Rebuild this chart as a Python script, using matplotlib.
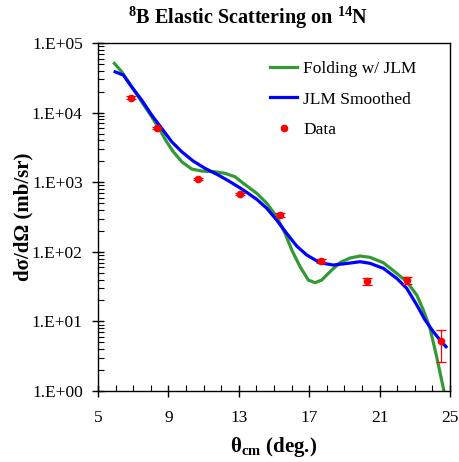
import matplotlib
matplotlib.use("Agg")
import matplotlib.pyplot as plt
import numpy as np
from matplotlib.lines import Line2D
from matplotlib.ticker import FixedLocator, MultipleLocator, LogLocator, FuncFormatter, NullFormatter

plt.rcParams['font.family'] = ['Liberation Serif', 'DejaVu Serif']
plt.rcParams['mathtext.fontset'] = 'custom'
plt.rcParams['mathtext.rm'] = 'Liberation Serif'
plt.rcParams['mathtext.bf'] = 'Liberation Serif:bold'

# folding model w/ JLM
fold_theta = [5.93, 6.35, 6.91, 7.48, 8.05, 8.52, 8.90, 9.28, 9.76, 10.32,
              10.89, 11.65, 12.22, 12.78, 13.26, 14.02, 14.59, 15.15, 15.63,
              16.01, 16.48, 16.95, 17.33, 17.71, 18.18, 18.75, 19.32, 19.89,
              20.45, 21.21, 21.97, 22.54, 23.11, 23.48, 23.86, 24.24, 24.66, 24.75]
fold_xs = [51100, 38700, 23600, 14350, 8730, 5620, 3820, 2740, 1970, 1549,
           1449, 1416, 1343, 1200, 964, 693, 498, 319, 184,
           106, 61.1, 39.3, 36.0, 39.3, 51.8, 70.2, 81.5, 87.1,
           83.4, 69.7, 49.1, 37.2, 23.9, 14.6, 7.96, 3.11, 0.98, 0.8]

# JLM smoothed
jlm_theta = [5.97, 6.44, 6.91, 7.48, 8.05, 8.62, 9.19, 9.76, 10.41, 11.08,
             11.84, 12.50, 13.26, 14.02, 14.59, 15.15, 15.72, 16.29, 16.86,
             17.61, 18.37, 19.32, 19.89, 20.45, 21.21, 21.97, 22.54, 23.11,
             23.58, 24.05, 24.43, 24.77]
jlm_xs = [38700, 34700, 23600, 15200, 9240, 5950, 3820, 2740, 2017, 1584,
          1268, 1017, 773, 568, 422, 286, 184, 121, 90,
          69.7, 64.6, 69.0, 72.1, 68.4, 57.9, 41.6, 29.9, 17.2,
          10.5, 7.11, 5.40, 4.33]

# measured data
data_theta = [6.88, 8.35, 10.68, 13.07, 15.34, 17.67, 20.28, 22.56, 24.49]
data_xs = [16400, 6000, 1110, 677, 338, 73.8, 38.1, 39.3, 5.23]
data_err_lo = [700, 250, 50, 30, 20, 5, 5, 4.9, 2.62]
data_err_hi = [700, 250, 50, 30, 20, 5, 4.4, 4.6, 2.27]

fig = plt.figure(figsize=(4.59, 4.62), dpi=100)
ax = fig.add_axes([0.2135, 0.1537, 0.767, 0.753])

ax.plot(fold_theta, fold_xs, color='#339933', lw=2.3)
ax.plot(jlm_theta, jlm_xs, color='#0000FF', lw=2.3)
ax.errorbar(data_theta, data_xs, yerr=[data_err_lo, data_err_hi], fmt='o',
            color='#FF0000', ms=4.5, elinewidth=0.9, capsize=3.5, capthick=0.9)

ax.set_yscale('log')
ax.set_xlim(5, 25)
ax.set_ylim(1, 1e5)

ax.xaxis.set_major_locator(FixedLocator([5, 9, 13, 17, 21, 25]))
ax.xaxis.set_minor_locator(MultipleLocator(1))
ax.yaxis.set_major_locator(LogLocator(base=10, numticks=10))
ax.yaxis.set_minor_locator(LogLocator(base=10, subs=np.arange(2, 10), numticks=10))
ax.yaxis.set_minor_formatter(NullFormatter())
ax.yaxis.set_major_formatter(FuncFormatter(lambda v, p: '1.E+%02d' % int(round(np.log10(v)))))

ax.tick_params(which='major', direction='inout', length=8, width=1, labelsize=12.5, pad=7)
ax.tick_params(which='minor', direction='in', length=4, width=0.8)
ax.tick_params(axis='x', which='major', pad=10)
for s in ax.spines.values():
    s.set_linewidth(1)

fig.text(0.541, 0.963, r'$^{\mathbf{8}}$B Elastic Scattering on $^{\mathbf{14}}$N',
         fontsize=14.5, fontweight='bold', ha='center', va='center')
ax.set_ylabel('dσ/dΩ (mb/sr)', fontsize=15, fontweight='bold', labelpad=-1)
ax.set_xlabel(r'θ$_{\mathbf{cm}}$ (deg.)', fontsize=15, fontweight='bold', labelpad=6)

handles = [Line2D([], [], color='#339933', lw=2.3),
           Line2D([], [], color='#0000FF', lw=2.3),
           Line2D([], [], color='#FF0000', marker='o', ms=4.5, ls='none')]
labels = ['Folding w/ JLM', 'JLM Smoothed', 'Data']
ax.legend(handles, labels, loc='upper right', bbox_to_anchor=(0.955, 1.0),
          frameon=False, fontsize=12.5, handlelength=1.6, borderaxespad=0.6,
          labelspacing=0.85, handletextpad=0.35)

fig.savefig('out.png', dpi=100)
